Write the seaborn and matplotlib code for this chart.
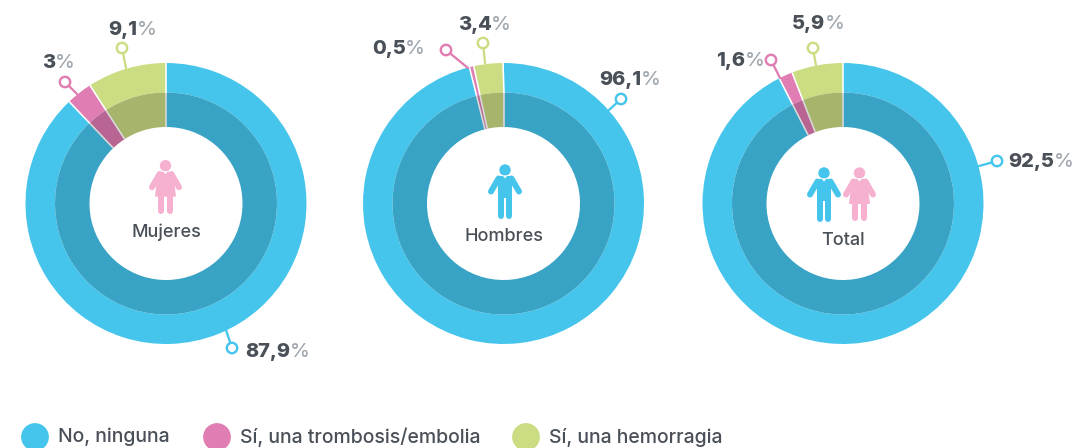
import matplotlib
matplotlib.use("Agg")
import matplotlib.pyplot as plt
from matplotlib.patches import Circle, Polygon
import numpy as np
import seaborn as sns

W, H = 1077, 448

# datos
grupos = ["Mujeres", "Hombres", "Total"]
categorias = ["No, ninguna", "Sí, una trombosis/embolia", "Sí, una hemorragia"]
no_ninguna = [87.9, 96.1, 92.5]
trombosis = [3.0, 0.5, 1.6]
hemorragia = [9.1, 3.4, 5.9]
etiquetas_no = ["87,9", "96,1", "92,5"]
etiquetas_tr = ["3", "0,5", "1,6"]
etiquetas_he = ["9,1", "3,4", "5,9"]

# colores
claros = ["#45C5EC", "#E07DB2", "#CBDD82"]
oscuros = ["#39A3C5", "#B86593", "#A7B56C"]
TXT = "#4A5058"
PCT = "#A0A8B0"
ROSA_ICONO = "#F6B0D0"

# layout en pixeles
centros = [166, 503.5, 843]
cy = 203.5
R_EXT, R_MED, R_INT = 140.5, 111, 76.5
# inicio guia, circulo, etiqueta (x izquierda, y centro) por grupo y categoria
guias = [
    [((226, 330), (232, 348), (245, 352)), ((77, 94), (65, 82), (42, 63)), ((126, 68), (122, 48), (108, 30))],
    [((609, 110), (621, 99), (599, 80)), ((468, 68), (446, 50), (372, 49)), ((485, 63), (483, 43), (458, 25))],
    [((979, 166), (997, 161), (1008, 162)), ((780, 78), (771, 60), (716, 61)), ((816, 66), (813, 48), (792, 24))],
]
titulos_y = [232, 236, 240]
leyenda_x = [35, 217, 526]
leyenda_txt_x = [58, 240, 549]
leyenda_y = 437

sns.set_theme(style="white")
plt.rcParams["font.family"] = ["Inter", "DejaVu Sans"]

fig = plt.figure(figsize=(W / 100, H / 100), dpi=100)
ax = fig.add_axes([0, 0, 1, 1])


def fy(y):
    return H - y


def lw(px):
    return px * 0.72


def pct_label(x, y, num):
    t = ax.text(x, fy(y), num, fontsize=14.4, fontweight=800, color=TXT, va="center", ha="left")
    bb = t.get_window_extent(fig.canvas.get_renderer())
    ax.text(x + bb.width - 0.5, fy(y), "%", fontsize=14.4, fontweight="medium", color=PCT, va="center", ha="left")


def mujer(x, y, color=ROSA_ICONO):
    # x, y = centro de la cabeza
    ax.add_patch(Circle((x, fy(y)), 5.7, fc=color, ec="none", zorder=5))
    ax.add_patch(Polygon([(x - 7.5, fy(y + 6)), (x + 7.5, fy(y + 6)), (x + 10.5, fy(y + 31)), (x - 10.5, fy(y + 31))],
                         fc=color, ec="none", zorder=5))
    for s in (-1, 1):
        ax.plot([x + s * 6, x + s * 13.5], [fy(y + 8.5), fy(y + 21.5)], color=color, lw=lw(6), solid_capstyle="round", zorder=5)
        ax.plot([x + s * 4.8, x + s * 4.8], [fy(y + 31), fy(y + 45)], color=color, lw=lw(6), solid_capstyle="round", zorder=5)
    ax.add_patch(Polygon([(x - 2.5, fy(y + 5.5)), (x + 2.5, fy(y + 5.5)), (x, fy(y + 8.5))], fc="white", ec="none", zorder=6))


def hombre(x, y, color=claros[0]):
    ax.add_patch(Circle((x, fy(y)), 5.7, fc=color, ec="none", zorder=5))
    ax.add_patch(Polygon([(x - 7.3, fy(y + 6)), (x + 7.3, fy(y + 6)), (x + 7.3, fy(y + 28)), (x - 7.3, fy(y + 28))],
                         fc=color, ec="none", zorder=5))
    for s in (-1, 1):
        ax.plot([x + s * 6.5, x + s * 14], [fy(y + 8.5), fy(y + 21.5)], color=color, lw=lw(6), solid_capstyle="round", zorder=5)
        ax.plot([x + s * 4.4, x + s * 4.4], [fy(y + 26), fy(y + 45.5)], color=color, lw=lw(6), solid_capstyle="round", zorder=5)
    ax.add_patch(Polygon([(x - 2.5, fy(y + 5.5)), (x + 2.5, fy(y + 5.5)), (x, fy(y + 8.5))], fc="white", ec="none", zorder=6))


for i, grupo in enumerate(grupos):
    valores = [no_ninguna[i], trombosis[i], hemorragia[i]]
    etiquetas = [etiquetas_no[i], etiquetas_tr[i], etiquetas_he[i]]
    cx = centros[i]
    ax.pie(valores, colors=claros, radius=R_EXT, center=(cx, fy(cy)), startangle=90, counterclock=False,
           wedgeprops=dict(width=R_EXT - R_MED, linewidth=0))
    ax.pie(valores, colors=oscuros, radius=R_MED, center=(cx, fy(cy)), startangle=90, counterclock=False,
           wedgeprops=dict(width=R_MED - R_INT, linewidth=0))
    # separadores entre sectores
    for a in np.cumsum(valores) / 100 * 2 * np.pi:
        dx, dy = np.sin(a), np.cos(a)
        ax.plot([cx + R_MED * dx, cx + R_EXT * dx], [fy(cy) + R_MED * dy, fy(cy) + R_EXT * dy],
                color="white", lw=lw(1.6), solid_capstyle="butt", zorder=2)
        ax.plot([cx + R_INT * dx, cx + R_MED * dx], [fy(cy) + R_INT * dy, fy(cy) + R_MED * dy],
                color="#D9D9D9", lw=lw(1.6), solid_capstyle="butt", zorder=2)
    for j in range(3):
        ini, fin, lab = guias[i][j]
        ax.plot([ini[0], fin[0]], [fy(ini[1]), fy(fin[1])], color=claros[j], lw=lw(2.3), zorder=3)
        ax.add_patch(Circle((fin[0], fy(fin[1])), 5.2, fc="white", ec=claros[j], lw=lw(2.4), zorder=4))
        pct_label(lab[0], lab[1], etiquetas[j])
    ax.text(cx, fy(titulos_y[i]), grupo, fontsize=13, fontweight="medium", color=TXT, ha="center", va="center")

mujer(165.5, 165.7)
hombre(505, 170)
hombre(824, 173)
mujer(859.5, 173)

# leyenda
sns.scatterplot(x=leyenda_x, y=[fy(leyenda_y)] * 3, hue=categorias, palette=claros, s=400, linewidth=0,
                legend=False, ax=ax, clip_on=False)
for x, c in zip(leyenda_txt_x, categorias):
    ax.text(x, fy(leyenda_y), c, fontsize=14, fontweight="medium", color=TXT, ha="left", va="center")

ax.set_xlim(0, W)
ax.set_ylim(0, H)
ax.set_aspect("equal")
ax.axis("off")
fig.savefig("out.png", dpi=100)
